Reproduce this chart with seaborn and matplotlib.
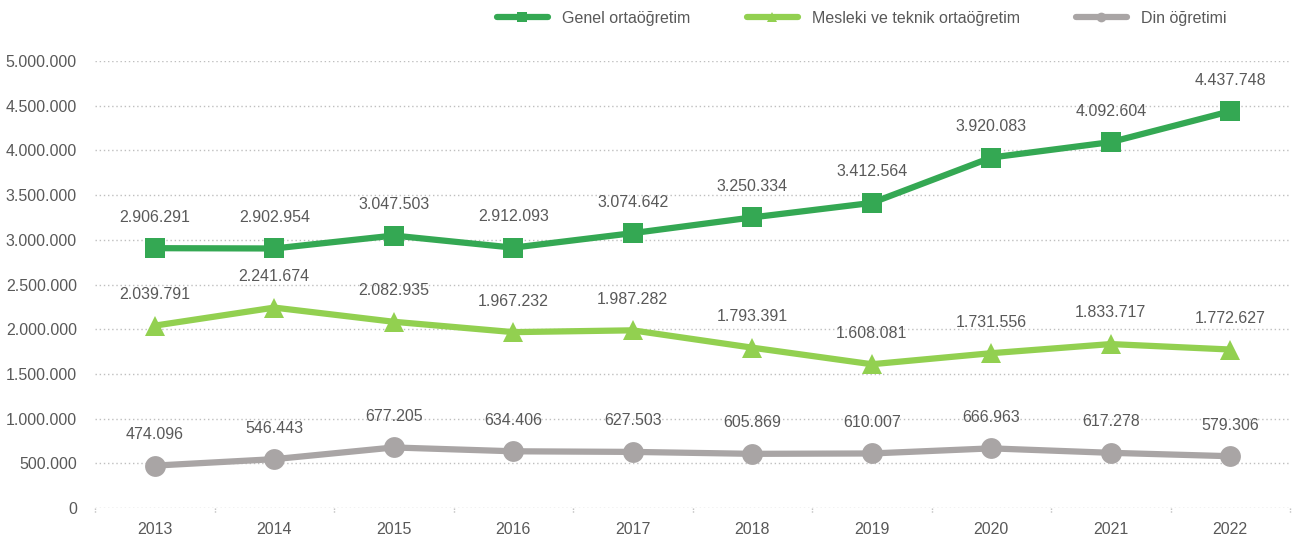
import matplotlib
matplotlib.use("Agg")
import matplotlib.pyplot as plt
from matplotlib.lines import Line2D
from matplotlib.ticker import FuncFormatter, MultipleLocator
import seaborn as sns
import pandas as pd

years = ["2013", "2014", "2015", "2016", "2017", "2018", "2019", "2020", "2021", "2022"]
genel = [2906291, 2902954, 3047503, 2912093, 3074642, 3250334, 3412564, 3920083, 4092604, 4437748]
mesleki = [2039791, 2241674, 2082935, 1967232, 1987282, 1793391, 1608081, 1731556, 1833717, 1772627]
din = [474096, 546443, 677205, 634406, 627503, 605869, 610007, 666963, 617278, 579306]
series_names = ["Genel ortaöğretim", "Mesleki ve teknik ortaöğretim", "Din öğretimi"]

colors = ["#34A853", "#92D050", "#A9A5A5"]
markers = ["s", "^", "o"]
text_color = "#595959"

sns.set_style("white")
plt.rcParams["font.family"] = ["Liberation Sans", "DejaVu Sans"]


def dotted(v):
    return f"{int(v):,}".replace(",", ".")


fig = plt.figure(figsize=(12.98, 5.46), dpi=100)
ax = fig.add_axes([95 / 1298, 1 - 508 / 546, 1195 / 1298, 447 / 546])

for name, vals, c, m in zip(series_names, [genel, mesleki, din], colors, markers):
    df = pd.DataFrame({"year": years, "value": vals})
    sns.lineplot(data=df, x="year", y="value", ax=ax, color=c, linewidth=4.5,
                 marker=m, markersize=15 if m != "^" else 14, markeredgewidth=0,
                 sort=False, legend=False)
    for i, v in enumerate(vals):
        ax.annotate(dotted(v), (i, v), xytext=(0, 17), textcoords="offset points",
                    ha="center", va="bottom", fontsize=11.5, color=text_color)

ax.set_xlim(-0.5, 9.5)
ax.set_ylim(0, 5000000)
ax.yaxis.set_major_locator(MultipleLocator(500000))
ax.yaxis.set_major_formatter(FuncFormatter(lambda v, p: dotted(v)))
ax.grid(axis="y", color="#BFBFBF", linestyle=(0, (1, 2)), linewidth=1)
ax.set_axisbelow(True)
for s in ["top", "right", "left", "bottom"]:
    ax.spines[s].set_visible(False)
ax.set_xlabel("")
ax.set_ylabel("")
ax.tick_params(axis="y", length=0, pad=13, labelsize=11.5, labelcolor=text_color)
ax.tick_params(axis="x", length=0, pad=10, labelsize=11.5, labelcolor=text_color)
# category boundary ticks
for b in [x - 0.5 for x in range(11)]:
    ax.plot([b, b], [0, -60000], color="#BFBFBF", linestyle=(0, (1, 1)), linewidth=1, clip_on=False)

handles = [Line2D([0], [0], color=c, linewidth=4.5, marker=m, markersize=7, markeredgewidth=0)
           for c, m in zip(colors, markers)]
fig.legend(handles, series_names, loc="center", bbox_to_anchor=(0.664, 0.967), ncol=3,
           frameon=False, fontsize=11.5, labelcolor=text_color, handlelength=3.2,
           columnspacing=3.5, handletextpad=0.9)

fig.savefig("out.png", dpi=100)
